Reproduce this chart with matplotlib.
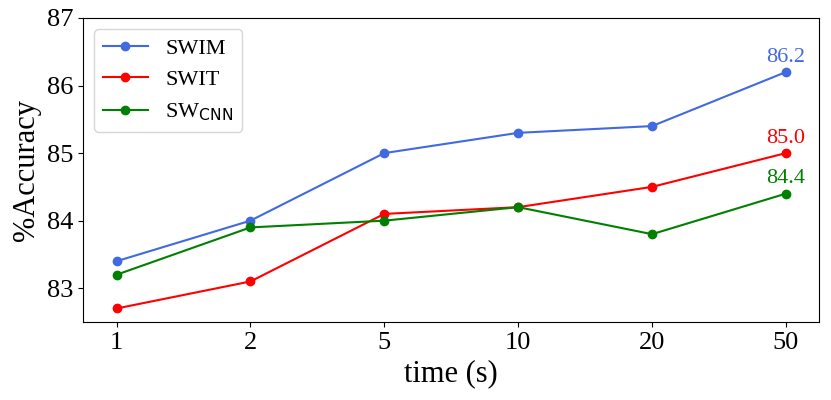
import matplotlib.pyplot as plt

plt.rcParams['font.family'] = ['Liberation Serif', 'DejaVu Serif']
plt.rcParams['mathtext.fontset'] = 'dejavusans'

times = ['1', '2', '5', '10', '20', '50']
swim = [83.4, 84.0, 85.0, 85.3, 85.4, 86.2]
swit = [82.7, 83.1, 84.1, 84.2, 84.5, 85.0]
swcnn = [83.2, 83.9, 84.0, 84.2, 83.8, 84.4]

fig, ax = plt.subplots(figsize=(8.31, 4), dpi=100)
x = range(len(times))
ax.plot(x, swim, '-o', color='royalblue', label='SWIM')
ax.plot(x, swit, '-o', color='red', label='SWIT')
ax.plot(x, swcnn, '-o', color='green', label=r'SW$_{\mathsf{CNN}}$')

ax.text(5, swim[-1] + 0.08, f'{swim[-1]:.1f}', color='royalblue', ha='center', va='bottom', fontsize=16)
ax.text(5, swit[-1] + 0.08, f'{swit[-1]:.1f}', color='red', ha='center', va='bottom', fontsize=16)
ax.text(5, swcnn[-1] + 0.08, f'{swcnn[-1]:.1f}', color='green', ha='center', va='bottom', fontsize=16)

ax.set_xticks(list(x))
ax.set_xticklabels(times, fontsize=19)
ax.set_ylim(82.5, 87)
ax.set_yticks([83, 84, 85, 86, 87])
ax.tick_params(axis='y', labelsize=19)
ax.set_xlabel('time (s)', fontsize=22)
ax.set_ylabel('%Accuracy', fontsize=22)
ax.legend(loc='upper left', fontsize=16)

plt.subplots_adjust(left=0.1, right=0.986, top=0.955, bottom=0.195)
plt.savefig('out.png')
